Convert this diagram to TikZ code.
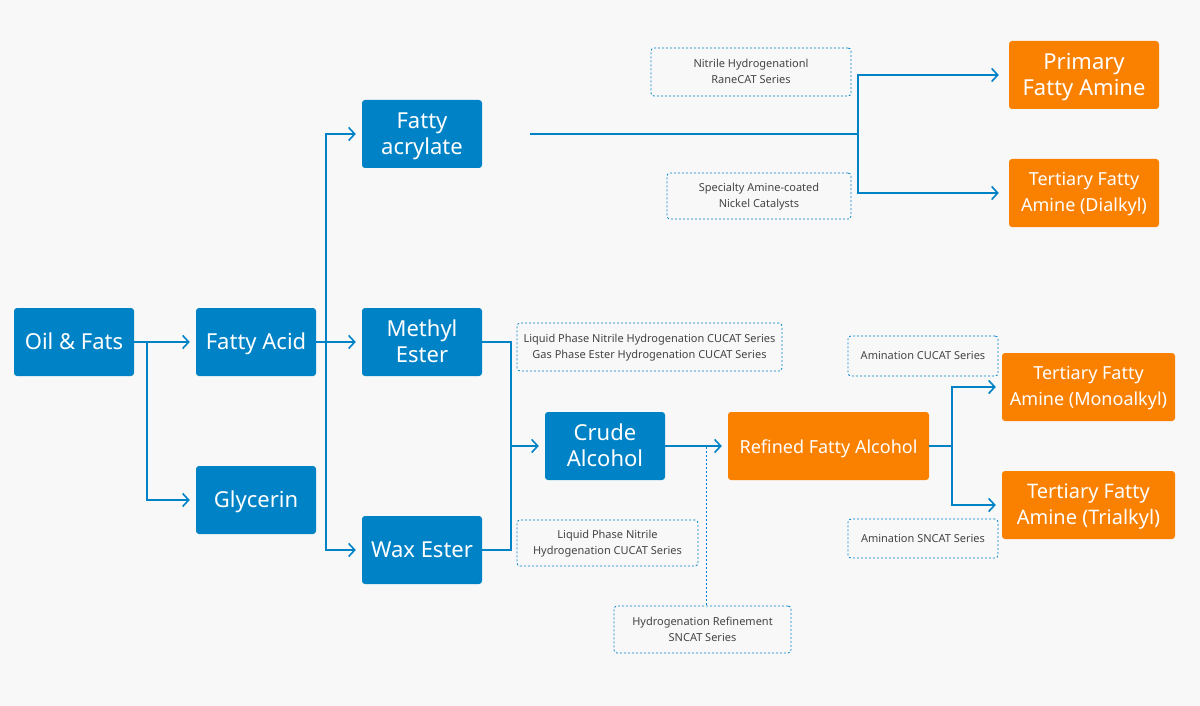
\documentclass[tikz,border=0pt]{standalone}
\usepackage{fontspec}
\setmainfont{Noto Sans}
\usepackage{tikz}
\usetikzlibrary{arrows.meta, positioning, calc}
\definecolor{flowblue}{HTML}{0083C6}
\definecolor{prodorange}{HTML}{FA8000}
\definecolor{catgray}{HTML}{444444}
\definecolor{bggray}{HTML}{F8F8F8}
\newcommand{\topstrut}{\rule{0pt}{1em}}
\tikzset{
  capstrut/.style 2 args={execute at begin node={\rule{0pt}{#1}}, execute at end node={\rule[-#2]{0pt}{#2}}},
  bigtext/.style={font=\fontsize{22}{26}\selectfont, capstrut={22pt}{6.3pt}},
  midtext/.style={font=\fontsize{18}{26}\selectfont, capstrut={18pt}{5.15pt}},
  largetext/.style={font=\fontsize{20}{26}\selectfont, capstrut={20pt}{5.7pt}},
  smalltext/.style={font=\fontsize{11}{16}\selectfont, capstrut={11pt}{3.15pt}},
  rawbox/.style={bigtext, fill=flowblue, text=white, rounded corners=3pt, minimum width=120pt, minimum height=68pt, inner sep=0pt, align=center},
  prodbox/.style={rawbox, fill=prodorange},
  catbox/.style={smalltext, draw=flowblue, dash pattern=on 2pt off 2pt, line width=0.8pt, rounded corners=3pt, text=catgray, minimum height=46pt, inner sep=0pt, align=center},
  flowline/.style={draw=flowblue, line width=2pt},
  flowarrow/.style={flowline, -{Straight Barb[length=6pt, width=13pt, line width=1.6pt]}, shorten >=6pt},
  dotline/.style={draw=flowblue, line width=1pt, dash pattern=on 2pt off 2pt}
}

\begin{document}
\begin{tikzpicture}[x=1pt, y=-1pt]
    \fill[bggray] (0,0) rectangle (1200,706);
    \useasboundingbox (0,0) rectangle (1200,706);

    % feedstock
    \node[rawbox] (oil) at (74,342) {Oil \& Fats};
    \node[rawbox] (acid) at (256,342) {Fatty Acid};
    \node[rawbox] (gly) at (256,500) {Glycerin};
    \node[rawbox] (acry) at (422,134) {\topstrut Fatty\\acrylate};
    \node[rawbox] (meth) at (422,342) {\topstrut Methyl\\Ester};
    \node[rawbox] (wax) at (422,550) {Wax Ester};
    \node[rawbox] (crude) at (605,446) {\topstrut Crude\\Alcohol};

    % products
    \node[prodbox, minimum width=150pt] (prim) at (1084,75) {\topstrut Primary\\Fatty Amine};
    \node[prodbox, midtext, minimum width=150pt] (dial) at (1084,193) {\topstrut Tertiary Fatty\\Amine (Dialkyl)};
    \node[prodbox, midtext, minimum width=201pt] (refd) at (828.5,446) {Refined Fatty Alcohol};
    \node[prodbox, midtext, minimum width=173pt] (mono) at (1088.5,387) {\topstrut Tertiary Fatty\\Amine (Monoalkyl)};
    \node[prodbox, largetext, minimum width=173pt] (tri) at (1088.5,505) {\topstrut Tertiary Fatty\\Amine (Trialkyl)};

    % catalysts
    \node[catbox, minimum width=200pt, minimum height=48pt] (rane) at (751,72) {\topstrut Nitrile Hydrogenationl\\RaneCAT Series};
    \node[catbox, minimum width=184pt] (nick) at (759,196) {\topstrut Specialty Amine-coated\\Nickel Catalysts};
    \node[catbox, minimum width=265pt, minimum height=48pt] (cucat) at (649.5,347) {\topstrut Liquid Phase Nitrile Hydrogenation CUCAT Series\\Gas Phase Ester Hydrogenation CUCAT Series};
    \node[catbox, minimum width=150pt, minimum height=40pt] (amcu) at (923,356) {Amination CUCAT Series};
    \node[catbox, minimum width=181pt] (lpn) at (607.5,543) {\topstrut Liquid Phase Nitrile\\Hydrogenation CUCAT Series};
    \node[catbox, minimum width=150pt, minimum height=39pt] (amsn) at (923,538.5) {Amination SNCAT Series};
    \node[catbox, minimum width=177pt, minimum height=47pt] (hyd) at (702.5,629.5) {\topstrut Hydrogenation Refinement\\SNCAT Series};

    % connectors
    \coordinate (j1) at (147,342);
    \coordinate (j2) at (326,342);
    \coordinate (s1) at (530,134);
    \coordinate (j3) at (858,134);
    \coordinate (j4) at (511,446);
    \coordinate (tap) at (706.5,447);
    \coordinate (j5) at (952,446);

    \draw[flowarrow] (oil) -- (acid);
    \draw[flowarrow] (j1) |- (gly);
    \draw[flowarrow] (acid) -- (meth);
    \draw[flowarrow] (j2) |- (acry);
    \draw[flowarrow] (j2) |- (wax);
    \draw[flowline] (s1) -- (j3);
    \draw[flowarrow, shorten >=10pt] (j3) |- (prim);
    \draw[flowarrow, shorten >=10pt] (j3) |- (dial);
    \draw[flowline] (meth) -| (j4);
    \draw[flowline] (wax) -| (j4);
    \draw[flowarrow] (j4) -- (crude);
    \draw[flowarrow] (crude) -- (refd);
    \draw[dotline] (tap) -- (tap |- hyd.north);
    \draw[flowline] (refd) -- (j5);
    \draw[flowarrow] (j5) |- (mono);
    \draw[flowarrow] (j5) |- (tri);
\end{tikzpicture}
\end{document}
